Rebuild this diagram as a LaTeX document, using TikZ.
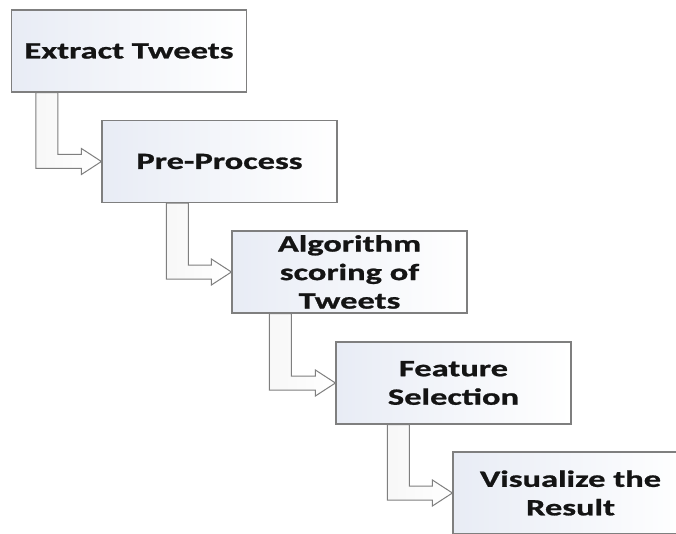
\documentclass[tikz,border=0pt]{standalone}
\usepackage{fontspec}
\newfontfamily\boxfont{Carlito}[FakeStretch=1.48,FakeBold=1]
\usetikzlibrary{calc}
\definecolor{boxleft}{HTML}{E8ECF5}
\definecolor{edge}{HTML}{7F7F7F}
\definecolor{txt}{HTML}{141414}
\tikzset{
  box/.style={draw=edge, line width=1.2pt, left color=boxleft, right color=white,
    minimum width=235pt, minimum height=82pt, inner sep=0pt, align=center,
    text=txt, font=\boxfont\bfseries\fontsize{23.3}{28.5}\selectfont},
  arr/.style={draw=edge, line width=1pt, left color=gray!6, right color=white, line join=miter}
}
\newcommand\bentarrow[3]{%
  \draw[arr] let \p1=(#1.south west), \p2=(#2.west) in
    (\x1+#3pt,\y1) -- (\x1+#3pt,\y2-7pt) -- (\x2-20pt,\y2-7pt) -- (\x2-20pt,\y2-13pt)
    -- (\p2) -- (\x2-20pt,\y2+13pt) -- (\x2-20pt,\y2+7pt) -- (\x1+#3pt+22pt,\y2+7pt)
    -- (\x1+#3pt+22pt,\y1) -- cycle;}
\begin{document}
\begin{tikzpicture}[x=1pt,y=-1pt]
\clip (0,0) rectangle (676,534);
\fill[white] (0,0) rectangle (676,534);
\node[box] (b1) at (129,51) {Extract Tweets};
\node[box] (b2) at (219.5,161.5) {Pre-Process};
\node[box] (b3) at (349.5,272) {Algorithm\\scoring of\\Tweets};
\node[box] (b4) at (453.5,383) {Feature\\Selection};
\node[box] (b5) at (570.5,493) {Visualize the\\Result};
\bentarrow{b1}{b2}{25}
\bentarrow{b2}{b3}{65}
\bentarrow{b3}{b4}{38}
\bentarrow{b4}{b5}{52}
\end{tikzpicture}
\end{document}
